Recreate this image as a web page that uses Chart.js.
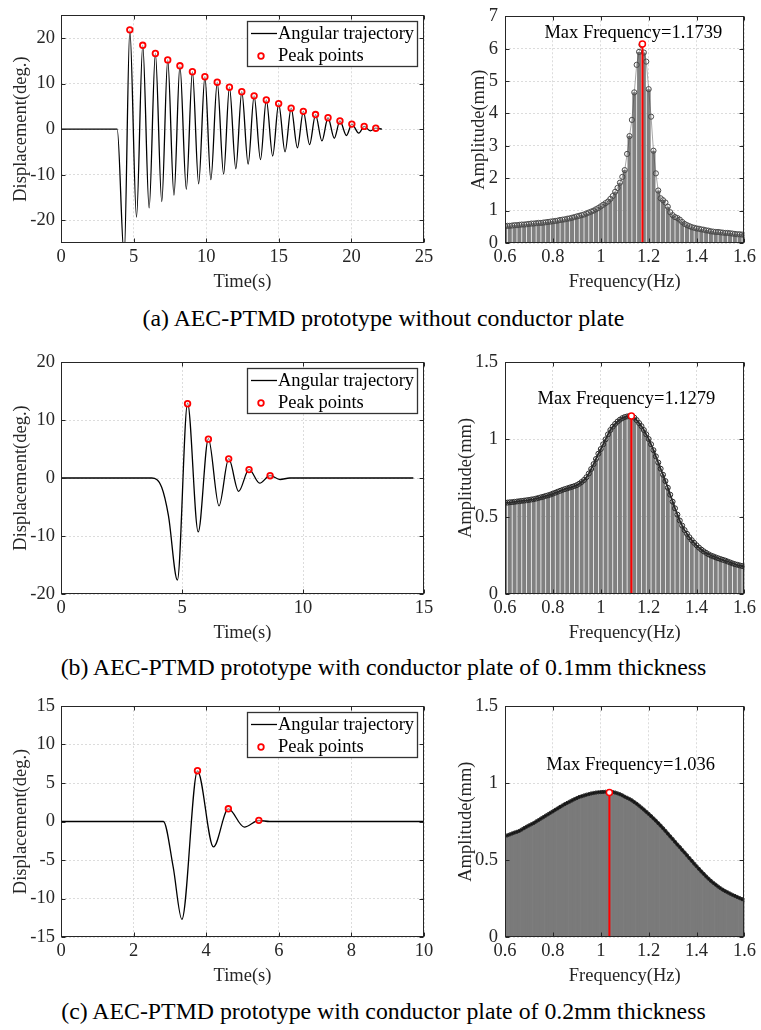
<!DOCTYPE html>
<html>
<head>
<meta charset="utf-8">
<script src="https://cdn.jsdelivr.net/npm/chart.js"></script>
<style>
  body { margin: 0; background: #fff; }
  #fig { position: relative; width: 761px; height: 1030px; overflow: hidden; background: #fff; }
  #fig canvas { position: absolute; }
  .legenda {
    position: absolute; left: 3px; width: 761px; text-align: center;
    font-family: 'Liberation Serif', 'Times New Roman', serif;
    font-size: 23.8px; line-height: 1; color: #000; white-space: nowrap;
  }
</style>
</head>
<body>
<div id="fig">
  <canvas id="tempoA" width="440" height="297" style="left:0;top:0"></canvas>
  <canvas id="freqA" width="299" height="297" style="left:462px;top:0"></canvas>
  <div class="legenda" style="top:307px">(a) AEC-PTMD prototype without conductor plate</div>

  <canvas id="tempoB" width="440" height="308" style="left:0;top:340px"></canvas>
  <canvas id="freqB" width="313" height="308" style="left:448px;top:340px"></canvas>
  <div class="legenda" style="top:656px">(b) AEC-PTMD prototype with conductor plate of 0.1mm thickness</div>

  <canvas id="tempoC" width="440" height="301" style="left:0;top:690px"></canvas>
  <canvas id="freqC" width="313" height="301" style="left:448px;top:690px"></canvas>
  <div class="legenda" style="top:1000px">(c) AEC-PTMD prototype with conductor plate of 0.2mm thickness</div>
</div>

<script>
// ---- (a) sem placa condutora ----
var tempoA = [0, 3.87, 4.35, 4.74, 5.2, 5.63, 6.07, 6.50, 6.94, 7.35, 7.78, 8.19, 8.63, 9.05, 9.48, 9.91,
  10.32, 10.76, 11.2, 11.6, 12.04, 12.45, 12.89, 13.3, 13.74, 14.14, 14.58, 14.99, 15.43, 15.85, 16.28,
  16.69, 17.12, 17.53, 17.97, 18.39, 18.82, 19.21, 19.66, 20.03, 20.51, 20.88, 21.3, 21.68, 22.1];
var deslA = [0, 0, -28, 21.8, -19.3, 18.4, -17.3, 16.6, -15.9, 15.2, -14.5, 13.9, -13.2, 12.6, -12.0, 11.5,
  -11.1, 10.3, -9.9, 9.2, -8.7, 8.2, -7.7, 7.3, -6.7, 6.4, -5.9, 5.6, -5.0, 4.6, -4.1,
  3.9, -3.4, 3.2, -2.6, 2.5, -2.0, 1.8, -1.4, 1.1, -0.9, 0.6, -0.4, 0.2, 0];
var picoTempoA = [4.74, 5.63, 6.50, 7.35, 8.19, 9.05, 9.91, 10.76, 11.6, 12.45, 13.3, 14.14, 14.99,
  15.85, 16.69, 17.53, 18.39, 19.21, 20.03, 20.88, 21.68];
var picoDeslA = [21.8, 18.4, 16.6, 15.2, 13.9, 12.6, 11.5, 10.3, 9.2, 8.2, 7.3, 6.4, 5.6,
  4.6, 3.9, 3.2, 2.5, 1.8, 1.1, 0.6, 0.2];

// ---- (b) placa de 0.1mm ----
var tempoB = [0, 3.75, 4.16, 4.44, 4.81, 5.23, 5.67, 6.09, 6.53, 6.93, 7.34, 7.77, 8.21, 8.64, 9.05, 9.45, 14.56];
var deslB = [0, 0, -1.6, -6.5, -17.6, 12.9, -9.3, 6.8, -4.8, 3.33, -2.3, 1.48, -0.9, 0.43, -0.26, 0, 0];
var picoTempoB = [5.23, 6.09, 6.93, 7.77, 8.64];
var picoDeslB = [12.8, 6.7, 3.3, 1.45, 0.4];

// ---- (c) placa de 0.2mm ----
var tempoC = [0, 2.82, 3.09, 3.33, 3.76, 4.20, 4.61, 5.05, 5.45, 5.75, 10];
var deslC = [0, 0, -5.9, -12.7, 6.56, -3.3, 1.63, -0.73, 0.13, 0, 0];
var picoTempoC = [3.76, 4.61, 5.45];
var picoDeslC = [6.6, 1.65, 0.15];

// ---- espectros (mesma grade de frequencia) ----
var freq = [0.60, 0.61, 0.62, 0.63, 0.64, 0.65, 0.66, 0.67, 0.68, 0.69, 0.70, 0.71, 0.72, 0.73, 0.74,
  0.75, 0.76, 0.77, 0.78, 0.79, 0.80, 0.81, 0.82, 0.83, 0.84, 0.85, 0.86, 0.87, 0.88, 0.89, 0.90, 0.91,
  0.92, 0.93, 0.94, 0.95, 0.96, 0.97, 0.98, 0.99, 1.00, 1.01, 1.02, 1.03, 1.04, 1.05, 1.06, 1.07, 1.08,
  1.09, 1.10, 1.11, 1.12, 1.13, 1.14, 1.15, 1.16, 1.17, 1.18, 1.19, 1.20, 1.21, 1.22, 1.23, 1.24, 1.25,
  1.26, 1.27, 1.28, 1.29, 1.30, 1.31, 1.32, 1.33, 1.34, 1.35, 1.36, 1.37, 1.38, 1.39, 1.40, 1.41, 1.42,
  1.43, 1.44, 1.45, 1.46, 1.47, 1.48, 1.49, 1.50, 1.51, 1.52, 1.53, 1.54, 1.55, 1.56, 1.57, 1.58, 1.59, 1.60];

var ampA = [0.52, 0.53, 0.53, 0.54, 0.55, 0.55, 0.56, 0.57, 0.57, 0.58, 0.59, 0.60, 0.60, 0.61, 0.62,
  0.62, 0.63, 0.64, 0.65, 0.66, 0.67, 0.68, 0.69, 0.71, 0.72, 0.73, 0.75, 0.76, 0.78, 0.80, 0.82, 0.84,
  0.86, 0.88, 0.91, 0.94, 0.97, 1.00, 1.04, 1.08, 1.13, 1.18, 1.23, 1.28, 1.36, 1.45, 1.58, 1.70, 1.86,
  2.04, 2.25, 2.75, 3.30, 3.80, 4.65, 5.50, 5.90, 6.12, 5.88, 5.60, 4.75, 3.90, 2.85, 2.15, 1.62, 1.38,
  1.32, 1.25, 1.12, 0.95, 0.86, 0.80, 0.77, 0.72, 0.65, 0.59, 0.55, 0.52, 0.49, 0.47, 0.45, 0.44, 0.42,
  0.41, 0.39, 0.38, 0.36, 0.35, 0.34, 0.34, 0.33, 0.32, 0.31, 0.31, 0.30, 0.29, 0.28, 0.27, 0.27, 0.26, 0.25];

var ampB = [0.590, 0.591, 0.593, 0.594, 0.596, 0.598, 0.600, 0.602, 0.604, 0.606, 0.608, 0.611, 0.613, 0.617, 0.621,
  0.625, 0.629, 0.634, 0.638, 0.643, 0.649, 0.655, 0.661, 0.667, 0.673, 0.678, 0.683, 0.688, 0.693, 0.698, 0.704, 0.713,
  0.724, 0.737, 0.755, 0.779, 0.808, 0.840, 0.873, 0.907, 0.937, 0.968, 1.000, 1.032, 1.060, 1.082, 1.100, 1.115, 1.127,
  1.137, 1.144, 1.148, 1.150, 1.151, 1.140, 1.124, 1.105, 1.085, 1.060, 1.032, 1.002, 0.968, 0.930, 0.890, 0.850, 0.810,
  0.771, 0.730, 0.687, 0.642, 0.597, 0.554, 0.513, 0.475, 0.442, 0.413, 0.389, 0.367, 0.348, 0.331, 0.315, 0.300, 0.287,
  0.276, 0.266, 0.257, 0.249, 0.243, 0.237, 0.231, 0.226, 0.221, 0.216, 0.210, 0.204, 0.198, 0.193, 0.189, 0.185, 0.181, 0.177];

var ampC = [0.656, 0.661, 0.667, 0.673, 0.679, 0.684, 0.690, 0.699, 0.708, 0.717, 0.725, 0.733, 0.741, 0.751, 0.760,
  0.770, 0.779, 0.789, 0.798, 0.808, 0.817, 0.827, 0.836, 0.846, 0.855, 0.864, 0.872, 0.880, 0.888, 0.896, 0.903, 0.910,
  0.915, 0.920, 0.925, 0.929, 0.933, 0.936, 0.939, 0.941, 0.942, 0.943, 0.944, 0.944, 0.944, 0.942, 0.939, 0.934, 0.928,
  0.921, 0.912, 0.905, 0.897, 0.888, 0.877, 0.866, 0.854, 0.841, 0.828, 0.814, 0.800, 0.786, 0.771, 0.756, 0.740, 0.724,
  0.707, 0.690, 0.672, 0.654, 0.637, 0.619, 0.601, 0.584, 0.566, 0.549, 0.531, 0.513, 0.495, 0.477, 0.460, 0.443, 0.426,
  0.410, 0.394, 0.379, 0.365, 0.352, 0.340, 0.328, 0.317, 0.307, 0.298, 0.290, 0.282, 0.274, 0.267, 0.260, 0.253, 0.246, 0.240];

// frequencia de pico e amplitude no pico
var fMaxA = 1.1739, aMaxA = 6.14;
var fMaxB = 1.1279, aMaxB = 1.151;
var fMaxC = 1.036, aMaxC = 0.940;

// marcas dos eixos
var ticksTempoA = [0, 5, 10, 15, 20, 25];
var ticksDeslA = [-20, -10, 0, 10, 20];
var ticksTempoB = [0, 5, 10, 15];
var ticksDeslB = [-20, -10, 0, 10, 20];
var ticksTempoC = [0, 2, 4, 6, 8, 10];
var ticksDeslC = [-15, -10, -5, 0, 5, 10, 15];
var ticksFreq = [0.6, 0.8, 1.0, 1.2, 1.4, 1.6];
var ticksAmpA = [0, 1, 2, 3, 4, 5, 6, 7];
var ticksAmpBC = [0, 0.5, 1, 1.5];

Chart.defaults.font.family = "'Liberation Serif', 'Times New Roman', serif";
Chart.defaults.font.size = 18.5;
Chart.defaults.color = '#262626';
Chart.defaults.animation = false;

var FONTE = "18.5px 'Liberation Serif', 'Times New Roman', serif";

// caixa do grafico com marcas para dentro (estilo MATLAB)
var moldura = {
  id: 'moldura',
  afterDatasetsDraw: function (chart) {
    var a = chart.chartArea, ctx = chart.ctx;
    var sx = chart.scales.x, sy = chart.scales.y;
    var L = Math.round(a.left) + 0.5, R = Math.round(a.right) - 0.5;
    var T = Math.round(a.top) + 0.5, B = Math.round(a.bottom) - 0.5;
    ctx.save();
    ctx.strokeStyle = '#262626';
    ctx.lineWidth = 1;
    ctx.beginPath();
    sx.ticks.forEach(function (t) {
      var p = Math.round(sx.getPixelForValue(t.value)) + 0.5;
      ctx.moveTo(p, B); ctx.lineTo(p, B - 4);
      ctx.moveTo(p, T); ctx.lineTo(p, T + 4);
    });
    sy.ticks.forEach(function (t) {
      var p = Math.round(sy.getPixelForValue(t.value)) + 0.5;
      ctx.moveTo(L, p); ctx.lineTo(L + 4, p);
      ctx.moveTo(R, p); ctx.lineTo(R - 4, p);
    });
    ctx.stroke();
    ctx.strokeRect(L, T, R - L, B - T);
    ctx.restore();
  }
};

// legenda com borda no canto superior direito
var caixa = {
  id: 'caixa',
  afterDraw: function (chart, args, opts) {
    if (!opts.mostrar) return;
    var a = chart.chartArea, ctx = chart.ctx, ds = chart.data.datasets;
    var w = 170, h = 45;
    var x0 = Math.round(a.right) - 7 - w, y0 = Math.round(a.top) + 6;
    ctx.save();
    ctx.fillStyle = '#fff';
    ctx.fillRect(x0, y0, w, h);
    ctx.strokeStyle = '#333';
    ctx.lineWidth = 1.3;
    ctx.strokeRect(x0 + 0.5, y0 + 0.5, w, h);
    ctx.font = FONTE;
    ctx.textBaseline = 'middle';
    ctx.strokeStyle = '#000';
    ctx.lineWidth = 1.3;
    ctx.beginPath();
    ctx.moveTo(x0 + 4, y0 + 12.5); ctx.lineTo(x0 + 30, y0 + 12.5);
    ctx.stroke();
    ctx.fillStyle = '#000';
    ctx.fillText(ds[0].label, x0 + 31, y0 + 13);
    ctx.beginPath();
    ctx.arc(x0 + 14, y0 + 35, 2.8, 0, Math.PI * 2);
    ctx.fillStyle = '#fff';
    ctx.fill();
    ctx.strokeStyle = '#ff0000';
    ctx.lineWidth = 1.8;
    ctx.stroke();
    ctx.fillStyle = '#000';
    ctx.fillText(ds[1].label, x0 + 31, y0 + 35.5);
    ctx.restore();
  }
};

// texto "Max Frequency=..."
var anotacao = {
  id: 'anotacao',
  afterDatasetsDraw: function (chart, args, opts) {
    if (!opts.texto) return;
    var ctx = chart.ctx;
    ctx.save();
    ctx.font = FONTE;
    ctx.fillStyle = '#000';
    ctx.textAlign = 'center';
    ctx.textBaseline = 'middle';
    ctx.fillText(opts.texto, chart.scales.x.getPixelForValue(opts.x), chart.scales.y.getPixelForValue(opts.y));
    ctx.restore();
  }
};

function fmt(v) {
  return String(Math.round(v * 100) / 100);
}

function eixo(marcas, min, max, titulo, tituloPad, tickPad, tamanho, horizontal) {
  return {
    type: 'linear',
    min: min,
    max: max,
    offset: false,
    afterBuildTicks: function (s) {
      s.ticks = marcas.map(function (v) { return { value: v }; });
    },
    ticks: { padding: tickPad, autoSkip: false, maxRotation: 0, font: { lineHeight: 1 }, callback: fmt },
    grid: { color: '#dcdcdc', drawTicks: false, offset: false },
    border: { display: false, dash: [2, 2] },
    title: { display: true, text: titulo, padding: tituloPad },
    afterFit: function (s) {
      if (horizontal) s.height = tamanho; else s.width = tamanho;
    }
  };
}

function graficoTempo(id, tempo, desl, picoT, picoD, xMax, yMin, yMax, marcasX, marcasY, topo) {
  var serie = tempo.map(function (t, i) { return { x: t, y: desl[i] }; });
  var picos = picoT.map(function (t, i) { return { x: t, y: picoD[i] }; });
  new Chart(document.getElementById(id), {
    type: 'line',
    data: {
      datasets: [{
        label: 'Angular trajectory',
        data: serie,
        borderColor: '#000',
        borderWidth: 1.3,
        pointRadius: 0,
        cubicInterpolationMode: 'monotone',
        order: 1
      }, {
        label: 'Peak points',
        data: picos,
        showLine: false,
        borderColor: '#ff0000',
        pointRadius: 2.8,
        pointBorderWidth: 1.8,
        pointBorderColor: '#ff0000',
        pointBackgroundColor: 'rgba(255,255,255,0.5)',
        order: 0
      }]
    },
    options: {
      responsive: false,
      events: [],
      layout: { padding: { top: topo, right: 16, left: 0, bottom: 0 } },
      plugins: { legend: { display: false }, tooltip: { enabled: false }, caixa: { mostrar: true } },
      scales: {
        x: eixo(marcasX, 0, xMax, 'Time(s)', { top: 0, bottom: 4 }, 5, 54, true),
        y: eixo(marcasY, yMin, yMax, 'Displacement(deg.)', { top: 10, bottom: 0 }, 6, 61, false)
      }
    },
    plugins: [moldura, caixa]
  });
}

function graficoEspectro(id, amp, fMax, aMax, yMax, marcasY, topo, eixoY, estilo, texto) {
  var pontos = freq.map(function (f, i) { return { x: f, y: amp[i] }; });
  // barras: uma a cada passo de barras (estilo stem agrupado)
  var barras = pontos.filter(function (p, i) { return i % estilo.passoBarra === 0; });
  new Chart(document.getElementById(id), {
    type: 'bar',
    data: {
      datasets: [{
        type: 'line',
        label: 'pico',
        data: [{ x: fMax, y: 0 }, { x: fMax, y: aMax }],
        borderColor: '#ff0000',
        borderWidth: 2,
        pointRadius: [0, 3],
        pointBorderWidth: 1.5,
        pointBorderColor: '#ff0000',
        pointBackgroundColor: '#fff',
        order: 0
      }, {
        type: 'line',
        label: 'amplitude',
        data: pontos,
        borderColor: estilo.corLinha,
        borderWidth: estilo.larguraLinha,
        pointRadius: estilo.raio,
        pointBorderWidth: estilo.bordaPonto,
        pointBorderColor: estilo.corPonto,
        pointBackgroundColor: 'rgba(255,255,255,0)',
        order: 1
      }, {
        type: 'bar',
        label: 'barras',
        data: barras,
        backgroundColor: estilo.corBarra,
        borderWidth: 0,
        barPercentage: estilo.barPct,
        categoryPercentage: 1,
        order: 2
      }]
    },
    options: {
      responsive: false,
      events: [],
      layout: { padding: { top: topo, right: 13, left: 0, bottom: 0 } },
      plugins: {
        legend: { display: false },
        tooltip: { enabled: false },
        anotacao: texto
      },
      scales: {
        x: eixo(ticksFreq, 0.6, 1.6, 'Frequency(Hz)', { top: 0, bottom: 4 }, 5, 54, true),
        y: eixo(marcasY, 0, yMax, 'Amplitude(mm)', { top: eixoY.pad, bottom: 0 }, 7, eixoY.largura, false)
      }
    },
    plugins: [moldura, anotacao]
  });
}

graficoTempo('tempoA', tempoA, deslA, picoTempoA, picoDeslA, 25, -25, 25, ticksTempoA, ticksDeslA, 10);
graficoTempo('tempoB', tempoB, deslB, picoTempoB, picoDeslB, 15, -20, 20, ticksTempoB, ticksDeslB, 22);
graficoTempo('tempoC', tempoC, deslC, picoTempoC, picoDeslC, 10, -15, 15, ticksTempoC, ticksDeslC, 16);

graficoEspectro('freqA', ampA, fMaxA, aMaxA, 7, ticksAmpA, 10, { largura: 43, pad: 6 },
  { corBarra: '#808080', barPct: 0.84, passoBarra: 2, corLinha: 'rgba(70,70,70,0.6)', larguraLinha: 0.8, raio: 2.6, bordaPonto: 1, corPonto: '#4a4a4a' },
  { texto: 'Max Frequency=' + fMaxA, x: 1.136, y: 6.47 });
graficoEspectro('freqB', ampB, fMaxB, aMaxB, 1.5, ticksAmpBC, 22, { largura: 57, pad: 7 },
  { corBarra: '#808080', barPct: 0.84, passoBarra: 2, corLinha: '#2a2a2a', larguraLinha: 1.8, raio: 2.5, bordaPonto: 1, corPonto: '#2a2a2a' },
  { texto: 'Max Frequency=' + fMaxB, x: 1.107, y: 1.259 });
graficoEspectro('freqC', ampC, fMaxC, aMaxC, 1.5, ticksAmpBC, 16, { largura: 57, pad: 7 },
  { corBarra: '#7a7a7a', barPct: 1, passoBarra: 1, corLinha: '#111', larguraLinha: 2.5, raio: 1.6, bordaPonto: 1, corPonto: '#222' },
  { texto: 'Max Frequency=' + fMaxC, x: 1.125, y: 1.117 });
</script>
</body>
</html>
